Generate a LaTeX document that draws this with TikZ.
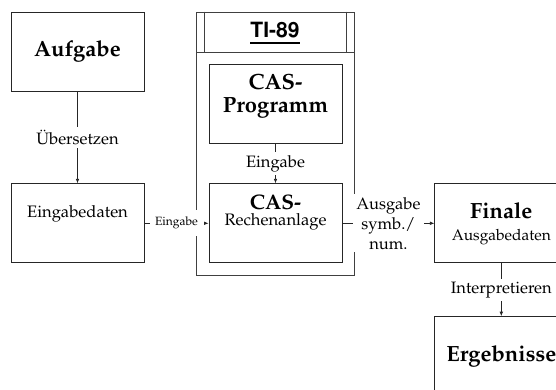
\documentclass[tikz,border=0pt]{standalone}
\usepackage[T1]{fontenc}
\usepackage{mathpazo}
\usetikzlibrary{positioning}
\usetikzlibrary{arrows.meta}

\tikzset{
  kasten/.style={draw=black!85, line width=0.8pt, minimum width=133pt, minimum height=79pt, inner sep=0pt},
  rahmen/.style={draw=black!75, line width=0.8pt, inner sep=0pt},
  pfeil/.style={draw=black!85, line width=0.7pt, -{Latex[length=4.5pt,width=3.6pt]}},
  marke/.style={fill=white, inner xsep=2pt, inner ysep=3pt, align=center,
    font=\fontsize{16.5}{20}\selectfont},
  gross/.style={font=\fontsize{22}{23}\selectfont\bfseries, align=center},
  mittel/.style={font=\fontsize{16.6}{16.5}\selectfont, align=center}
}

\begin{document}
\begin{tikzpicture}[x=1pt,y=1pt]
\clip (0,0) rectangle (556,-390);
% linke Spalte
\node[kasten] (aufgabe) at (77.5,-51.5) {};
\node[kasten, below=92pt of aufgabe] (eingabedaten) {};
% Rahmen des Rechners
\node[rahmen, minimum width=158pt, minimum height=263pt] (ti) at (275,-143.5) {};
\node[rahmen, minimum width=158pt, minimum height=40pt, anchor=north] (kopf) at (ti.north) {};
\draw[rahmen] ([xshift=9pt]kopf.north west) -- ([xshift=9pt]kopf.south west);
\draw[rahmen] ([xshift=-8pt]kopf.north east) -- ([xshift=-8pt]kopf.south east);
\node[font=\fontfamily{phv}\fontseries{b}\fontsize{21}{21}\selectfont, inner sep=0pt] (titel) at ([yshift=2pt]kopf.center) {TI-89};
\draw[line width=1.8pt] ([yshift=-5pt]titel.south west) -- ([yshift=-5pt]titel.south east);
% innere Kaesten
\node[kasten] (programm) at (275.5,-104) {};
\node[kasten, below=39.5pt of programm] (rechner) {};
% rechte Spalte
\node[kasten, right=92pt of rechner] (finale) {};
\node[kasten, below=53pt of finale] (ergebnisse) {};
% Beschriftungen
\node[gross] (aufgabetxt) at (aufgabe) {Aufgabe};
\node[mittel] (eingabedatentxt) at ([yshift=9.5pt]eingabedaten.center) {Eingabedaten};
\node[gross] (programmtxt) at ([yshift=7.5pt]programm.center) {CAS-\\Programm};
\node[mittel] (rechnertxt) at ([yshift=11pt]rechner.center) {{\fontsize{21}{21}\bfseries CAS-}\\Rechenanlage};
\node[mittel, font=\fontsize{15.5}{22}\selectfont] (finaletxt) at (finale) {{\fontsize{22}{22}\bfseries Finale}\\Ausgabedaten};
\node[gross] (ergebnissetxt) at (ergebnisse) {Ergebnisse};
% Pfeile
\draw[pfeil] (aufgabe) -- node[marke] (uebersetzen) {Übersetzen} (eingabedaten);
\draw[pfeil] (eingabedaten) -- node[marke, font=\fontsize{12}{14}\selectfont, minimum width=54pt, minimum height=26pt] (eingabe) {Eingabe} (rechner);
\draw[pfeil] (programm) -- node[marke] (eingabeprog) {Eingabe} (rechner);
\draw[pfeil] (rechner) -- node[marke, minimum width=71pt] (ausgabe) {Ausgabe\\symb./\\num.} (finale);
\draw[pfeil] (finale) -- node[marke] (interpretieren) {Interpretieren} (ergebnisse);
\end{tikzpicture}
\end{document}
